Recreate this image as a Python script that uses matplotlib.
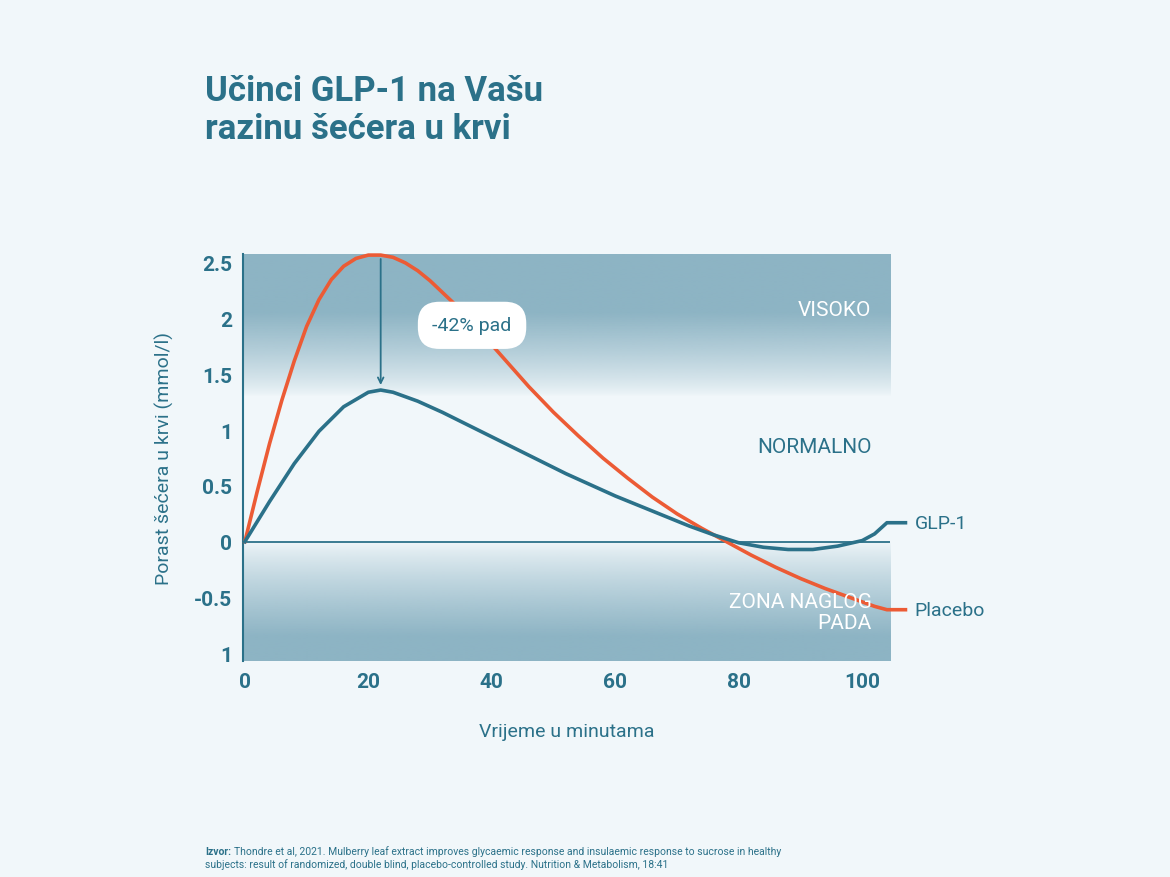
import numpy as np
import matplotlib
matplotlib.use("Agg")
import matplotlib.pyplot as plt

plt.rcParams["font.family"] = "Roboto"

TEAL = "#2b7189"
ORANGE = "#ec5b35"
BG = "#f1f7fa"
DARK = np.array([0x8d, 0xb4, 0xc4]) / 255.0

minutes_placebo = [0, 2, 4, 6, 8, 10, 12, 14, 16, 18, 20, 22, 24, 26, 28, 30, 34, 38, 42, 46,
                   50, 54, 58, 62, 66, 70, 74, 78, 82, 86, 90, 94, 98, 102, 104, 107]
placebo = [0, 0.45, 0.88, 1.27, 1.62, 1.93, 2.17, 2.35, 2.47, 2.54, 2.57, 2.57, 2.55, 2.50,
           2.43, 2.34, 2.13, 1.89, 1.64, 1.39, 1.16, 0.95, 0.75, 0.57, 0.40, 0.25, 0.12,
           0.0, -0.12, -0.23, -0.33, -0.42, -0.50, -0.58, -0.61, -0.61]

minutes_glp = [0, 4, 8, 12, 16, 20, 22, 24, 28, 32, 36, 40, 44, 48, 52, 56, 60, 64, 68, 72,
               76, 80, 84, 88, 92, 96, 100, 102, 104, 107]
glp1 = [0, 0.36, 0.70, 0.99, 1.21, 1.34, 1.36, 1.34, 1.26, 1.16, 1.05, 0.94, 0.83, 0.72,
        0.61, 0.51, 0.41, 0.32, 0.23, 0.14, 0.06, -0.01, -0.05, -0.07, -0.07, -0.04, 0.01,
        0.07, 0.17, 0.17]

x_ticks = [0, 20, 40, 60, 80, 100]
y_ticks = [-1, -0.5, 0, 0.5, 1, 1.5, 2, 2.5]
y_tick_labels = ["1", "-0.5", "0", "0.5", "1", "1.5", "2", "2.5"]

XMIN, XMAX = -0.3, 104.5
YMIN, YMAX = -1.07, 2.58

fig = plt.figure(figsize=(11.7, 8.78), dpi=100, facecolor=BG)
ax = fig.add_axes([0.2077, 0.246, 0.553, 0.4636], facecolor=BG)

# gradient zones
ys = np.linspace(YMAX, YMIN, 400)
alpha = np.zeros_like(ys)
top = ys > 1.3
alpha[top] = np.clip((ys[top] - 1.3) / 0.75, 0, 1) ** 0.8
low = ys < 0
alpha[low] = np.clip(-ys[low] / 0.85, 0, 1) ** 0.8
img = np.zeros((len(ys), 1, 4))
img[:, 0, :3] = DARK
img[:, 0, 3] = alpha
ax.imshow(img, extent=[XMIN, XMAX, YMIN, YMAX], aspect="auto", zorder=0, interpolation="bilinear")

ax.axhline(0, color=TEAL, lw=1.3, zorder=1)
ax.plot(minutes_placebo, placebo, color=ORANGE, lw=2.6, clip_on=False, zorder=3)
ax.plot(minutes_glp, glp1, color=TEAL, lw=2.6, clip_on=False, zorder=3)

ax.set_xlim(XMIN, XMAX)
ax.set_ylim(YMIN, YMAX)
for s in ["top", "right", "bottom"]:
    ax.spines[s].set_visible(False)
ax.spines["left"].set_color(TEAL)
ax.spines["left"].set_linewidth(1.5)
ax.set_xticks(x_ticks)
ax.set_yticks(y_ticks)
ax.set_yticklabels(y_tick_labels)
ax.tick_params(length=0, colors=TEAL, labelsize=15, pad=8)
for lab in ax.get_xticklabels() + ax.get_yticklabels():
    lab.set_fontweight("bold")

ax.set_xlabel("Vrijeme u minutama", color=TEAL, fontsize=14, labelpad=22)
ax.set_ylabel("Porast šećera u krvi (mmol/l)", color=TEAL, fontsize=14, labelpad=14)

ax.text(101.5, 2.08, "VISOKO", color="white", fontsize=15, ha="right", va="center")
ax.text(101.5, 0.85, "NORMALNO", color=TEAL, fontsize=15, ha="right", va="center")
ax.text(101.5, -0.63, "ZONA NAGLOG\nPADA", color="white", fontsize=15, ha="right",
        va="center", linespacing=1.1)

ax.text(108.5, 0.17, "GLP-1", color=TEAL, fontsize=14, va="center", clip_on=False)
ax.text(108.5, -0.61, "Placebo", color=TEAL, fontsize=14, va="center", clip_on=False)

ax.annotate("", xy=(22, 1.38), xytext=(22, 2.56),
            arrowprops=dict(arrowstyle="->", color=TEAL, lw=1.3), zorder=4)
ax.text(36.8, 1.94, "-42% pad", color=TEAL, fontsize=14, ha="center", va="center",
        bbox=dict(boxstyle="round,pad=0.75,rounding_size=1.1", fc="white", ec="none"),
        zorder=5)

fig.text(0.175, 0.915, "Učinci GLP-1 na Vašu\nrazinu šećera u krvi", color=TEAL,
         fontsize=25, fontweight="bold", va="top", linespacing=1.2)

# footer: bold label followed by the source text
izvor = fig.text(0.175, 0.024, "Izvor:", color=TEAL, fontsize=7.5, fontweight="bold", va="bottom")
renderer = fig.canvas.get_renderer()
bb = izvor.get_window_extent(renderer).transformed(fig.transFigure.inverted())
fig.text(bb.x1 + 0.003, 0.024, "Thondre et al, 2021. Mulberry leaf extract improves glycaemic "
         "response and insulaemic response to sucrose in healthy",
         color=TEAL, fontsize=7.5, va="bottom")
fig.text(0.175, 0.009, "subjects: result of randomized, double blind, placebo-controlled study. "
         "Nutrition & Metabolism, 18:41", color=TEAL, fontsize=7.5, va="bottom")

fig.savefig("out.png", dpi=100, facecolor=BG)
